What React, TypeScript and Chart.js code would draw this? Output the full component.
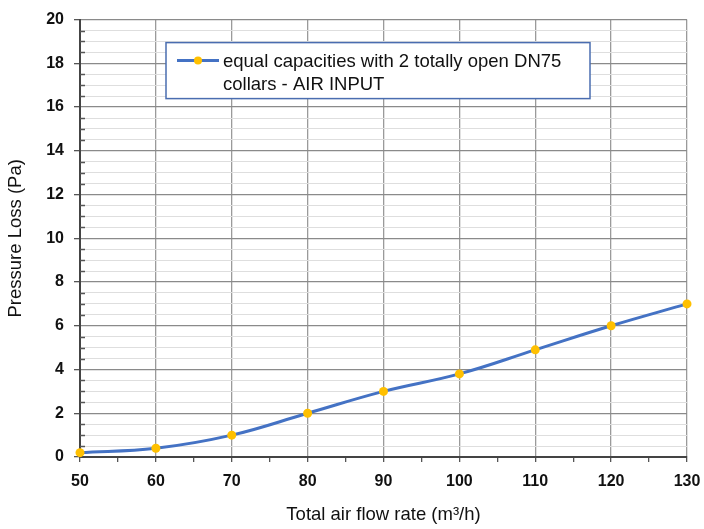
import React, { useEffect, useRef } from "react";
import { Chart, registerables } from "chart.js";

Chart.register(...registerables);

const flowRates = [50, 60, 70, 80, 90, 100, 110, 120, 130];
const pressureLoss = [0.2, 0.4, 1.0, 2.0, 3.0, 3.8, 4.9, 6.0, 7.0];
const seriesLabel = "equal capacities with 2 totally open DN75 collars - AIR INPUT";
const legendLines = ["equal capacities with 2 totally open DN75", "collars - AIR INPUT"];
const xTitle = "Total air flow rate (m³/h)";
const yTitle = "Pressure Loss (Pa)";

const LINE_COLOR = "#4472C4";
const POINT_COLOR = "#FFC000";
const FONT = "'Liberation Sans', Arial, sans-serif";

const minorTicksPlugin = {
  id: "minorTicks",
  afterDatasetsDraw(chart: any) {
    const ctx = chart.ctx;
    const y = chart.scales.y;
    const area = chart.chartArea;
    ctx.save();
    ctx.strokeStyle = "#555";
    ctx.lineWidth = 1.5;
    for (let v = 0.5; v < 20; v += 0.5) {
      if (v % 2 === 0) continue;
      const py = Math.round(y.getPixelForValue(v)) + 0.5;
      ctx.beginPath();
      ctx.moveTo(area.left, py);
      ctx.lineTo(area.left + 5, py);
      ctx.stroke();
    }
    ctx.restore();
  },
};

const legendPlugin = {
  id: "boxLegend",
  afterDraw(chart: any) {
    const ctx = chart.ctx;
    const area = chart.chartArea;
    const left = area.left + 86;
    const top = area.top + 23;
    const w = 424;
    const h = 56;
    ctx.save();
    ctx.fillStyle = "#fff";
    ctx.fillRect(left, top, w, h);
    ctx.strokeStyle = "#4a6db0";
    ctx.lineWidth = 1.5;
    ctx.strokeRect(left, top, w, h);
    const sy = top + 18;
    ctx.strokeStyle = LINE_COLOR;
    ctx.lineWidth = 3;
    ctx.beginPath();
    ctx.moveTo(left + 11, sy);
    ctx.lineTo(left + 53, sy);
    ctx.stroke();
    ctx.fillStyle = POINT_COLOR;
    ctx.beginPath();
    ctx.arc(left + 32, sy, 4, 0, Math.PI * 2);
    ctx.fill();
    ctx.fillStyle = "#111";
    ctx.font = "18.5px " + FONT;
    ctx.textBaseline = "middle";
    legendLines.forEach((line, i) => {
      ctx.fillText(line, left + 57, sy + 1 + i * 23);
    });
    ctx.restore();
  },
};

export default function App() {
  const ref = useRef<HTMLCanvasElement>(null);
  useEffect(() => {
    if (!ref.current) return;
    const chart = new Chart(ref.current, {
      type: "line",
      data: {
        datasets: [
          {
            label: seriesLabel,
            data: flowRates.map((x, i) => ({ x, y: pressureLoss[i] })),
            borderColor: LINE_COLOR,
            backgroundColor: POINT_COLOR,
            borderWidth: 3,
            pointRadius: 4.5,
            pointBackgroundColor: POINT_COLOR,
            pointBorderColor: POINT_COLOR,
            pointBorderWidth: 0,
            tension: 0.4,
            clip: false as any,
          },
        ],
      },
      options: {
        responsive: false,
        animation: false,
        layout: { padding: { top: 14, right: 17, left: 0, bottom: 0 } },
        plugins: { legend: { display: false }, tooltip: { enabled: false } },
        scales: {
          x: {
            type: "linear",
            min: 50,
            max: 130,
            afterFit(scale: any) {
              scale.height = 72;
              scale.paddingRight = 0;
              scale.paddingLeft = 0;
            },
            ticks: {
              stepSize: 5,
              autoSkip: false,
              maxRotation: 0,
              padding: 10,
              color: "#111",
              font: { family: FONT, size: 16, weight: "bold" },
              callback: (v: any) => (Number(v) % 10 === 0 ? String(v) : ""),
            },
            grid: {
              color: (c: any) => (c.tick && c.tick.value % 10 === 0 ? "#9a9a9a" : "transparent"),
              lineWidth: 1.3,
              tickColor: "#555",
              tickLength: 5,
              drawTicks: true,
            },
            border: { color: "#444", width: 2 },
            title: {
              display: true,
              text: xTitle,
              color: "#111",
              font: { family: FONT, size: 18.5 },
              padding: { top: 0, bottom: 3 },
            },
          },
          y: {
            type: "linear",
            min: 0,
            max: 20,
            afterFit(scale: any) {
              scale.width = 80;
            },
            ticks: {
              stepSize: 0.5,
              autoSkip: false,
              padding: 10,
              color: "#111",
              font: { family: FONT, size: 16, weight: "bold" },
              callback: (v: any) => (Number(v) % 2 === 0 ? String(v) : ""),
            },
            grid: {
              color: (c: any) => (c.tick && c.tick.value % 2 === 0 ? "#8a8a8a" : "#dedede"),
              lineWidth: (c: any) => (c.tick && c.tick.value % 2 === 0 ? 1.3 : 1),
              tickColor: (c: any) => (c.tick && c.tick.value % 2 === 0 ? "#555" : "transparent"),
              tickLength: 6,
            },
            border: { color: "#444", width: 2 },
            title: {
              display: true,
              text: yTitle,
              color: "#111",
              font: { family: FONT, size: 18.5 },
              padding: { top: 5, bottom: 0 },
            },
          },
        },
      },
      plugins: [minorTicksPlugin, legendPlugin],
    });
    return () => chart.destroy();
  }, []);
  return (
    <div style={{ position: "absolute", left: 0, top: 0, width: 704, height: 529, background: "#fff" }}>
      <canvas ref={ref} width={704} height={529} style={{ width: 704, height: 529 }} />
    </div>
  );
}
